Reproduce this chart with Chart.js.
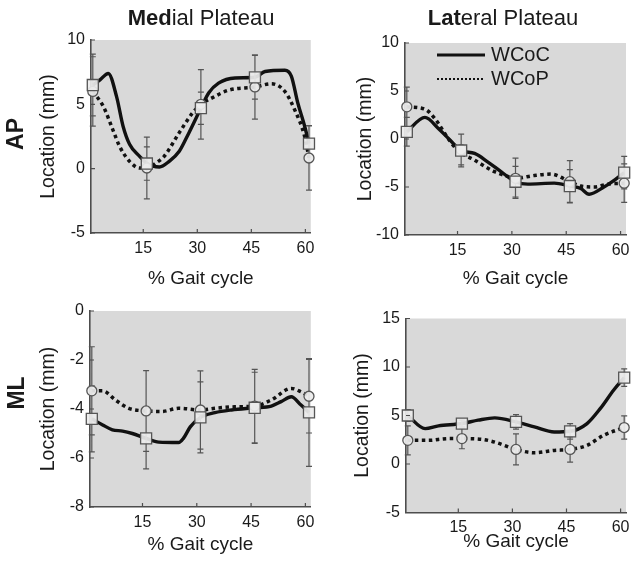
<!DOCTYPE html>
<html>
<head>
<meta charset="utf-8">
<script src="https://cdn.jsdelivr.net/npm/chart.js@4.4.1/dist/chart.umd.min.js"></script>
<style>
body { margin: 0; background: #fff; }
#fig { position: relative; width: 641px; height: 566px; overflow: hidden;
       font-family: "Liberation Sans", Arial, sans-serif; color: #1a1a1a; }
canvas { position: absolute; }
.lbl { position: absolute; white-space: nowrap; line-height: 1; transform: translate(-50%, -50%); }
.ttl { font-size: 22px; }
.row { font-size: 23px; font-weight: bold; transform: translate(-50%, -50%) rotate(-90deg); }
</style>
</head>
<body>
<div id="fig">
  <canvas id="c1" width="320" height="300" style="left:0;top:0"></canvas>
  <canvas id="c2" width="321" height="300" style="left:320px;top:0"></canvas>
  <canvas id="c3" width="320" height="283" style="left:0;top:283px"></canvas>
  <canvas id="c4" width="321" height="283" style="left:320px;top:283px"></canvas>
  <div class="lbl ttl" style="left:201px;top:18px"><b>Med</b>ial Plateau</div>
  <div class="lbl ttl" style="left:503px;top:18px"><b>Lat</b>eral Plateau</div>
  <div class="lbl row" style="left:15px;top:134px">AP</div>
  <div class="lbl row" style="left:16px;top:393px">ML</div>
</div>
<script>
// marker positions (% gait cycle) and x tick labels
const gaitX = [1, 16, 31, 46, 61];
const xTickValues = [15, 30, 45, 60];

// AP - medial plateau
const apMedCocX = [1, 3, 5.3, 7.6, 9.4, 11.2, 14, 16, 19.5, 22.2, 25, 27.7, 31, 33.2, 35.9, 40.5, 46, 48.8, 54.3, 56.1, 57.9, 59.8, 61];
const apMedCocY = [6.5, 6.9, 7.4, 5.6, 3.3, 1.9, 0.96, 0.4, 0.13, 0.57, 1.35, 2.8, 4.7, 5.9, 6.65, 7.05, 7.1, 7.55, 7.65, 7.2, 5.1, 3.3, 1.95];
const apMedCopX = [1, 3.9, 6.6, 8.5, 11.2, 14, 16, 18.5, 20.8, 25, 28.6, 31, 34.1, 38.7, 46, 50.6, 54.3, 57, 59.8, 61];
const apMedCopY = [6.0, 4.85, 3.0, 1.7, 0.57, 0.05, 0.05, 0.44, 0.96, 2.8, 4.3, 5.0, 5.5, 6.1, 6.35, 6.6, 6.0, 4.6, 2.5, 0.83];
const apMedCocMean = [6.5, 0.4, 4.7, 7.1, 1.95];
const apMedCocSd = [2.4, 1.3, 1.25, 1.7, 1.4];
const apMedCopMean = [6.0, 0.05, 5.0, 6.35, 0.83];
const apMedCopSd = [2.7, 2.4, 2.7, 2.5, 2.5];

// AP - lateral plateau
const apLatCocX = [1, 6, 9.7, 12.9, 16, 19.7, 23.4, 27, 31, 34.4, 41.7, 46, 49, 51.3, 55.4, 58.6, 61];
const apLatCocY = [0.75, 2.25, 1.1, -0.1, -1.2, -1.5, -2.4, -3.4, -4.45, -4.7, -4.6, -4.9, -5.15, -5.75, -5.0, -4.2, -3.5];
const apLatCopX = [1, 6, 8.7, 12.4, 15.1, 19.7, 25.2, 28.9, 31, 36.2, 40.8, 46, 49, 52.7, 56.4, 61];
const apLatCopY = [3.35, 3.1, 2.15, 0.05, -1.2, -2.2, -3.4, -3.9, -4.1, -3.8, -3.65, -4.45, -4.9, -5.0, -4.7, -4.6];
const apLatCocMean = [0.75, -1.2, -4.45, -4.9, -3.5];
const apLatCocSd = [1.5, 1.7, 1.6, 1.7, 1.7];
const apLatCopMean = [3.35, -1.1, -4.1, -4.45, -4.6];
const apLatCopSd = [2.05, 1.6, 2.1, 2.2, 2.0];

// ML - medial plateau
const mlMedCocX = [1, 4, 6.7, 9.5, 12.2, 16, 19.5, 25, 26.3, 28.2, 31, 35, 39.6, 46, 50.6, 53.3, 56.1, 58.8, 61];
const mlMedCocY = [-4.4, -4.65, -4.85, -4.9, -5.0, -5.2, -5.35, -5.37, -5.2, -4.73, -4.34, -4.15, -4.04, -3.95, -3.88, -3.7, -3.5, -3.84, -4.14];
const mlMedCopX = [1, 4, 7.5, 11.2, 16, 20.4, 25, 31, 35, 40.5, 46, 50.6, 56.1, 58.8, 61];
const mlMedCopY = [-3.26, -3.26, -3.63, -3.97, -4.08, -4.1, -3.97, -4.04, -3.97, -3.91, -3.88, -3.63, -3.16, -3.3, -3.48];
const mlMedCocMean = [-4.4, -5.2, -4.34, -3.95, -4.14];
const mlMedCocSd = [1.35, 1.24, 1.45, 1.45, 2.2];
const mlMedCopMean = [-3.26, -4.08, -4.04, -3.88, -3.48];
const mlMedCopSd = [1.8, 1.65, 1.6, 1.5, 1.5];

// ML - lateral plateau
const mlLatCocX = [1, 5.8, 9.5, 16, 20.5, 25.1, 31, 36.1, 41.6, 46, 50.7, 54.4, 58.1, 61];
const mlLatCocY = [5.0, 3.65, 3.93, 4.17, 4.52, 4.76, 4.34, 3.82, 3.3, 3.37, 4.17, 5.73, 7.63, 8.9];
const mlLatCopX = [1, 6.7, 12.2, 16, 21.4, 25.1, 31, 36.1, 41.6, 46, 50.7, 55.3, 61];
const mlLatCopY = [2.44, 2.44, 2.62, 2.62, 2.55, 2.26, 1.5, 1.16, 1.4, 1.5, 1.92, 2.96, 3.76];
const mlLatCocMean = [5.0, 4.17, 4.34, 3.37, 8.9];
const mlLatCocSd = [0.6, 0.35, 0.75, 0.8, 0.9];
const mlLatCopMean = [2.44, 2.62, 1.5, 1.5, 3.76];
const mlLatCopSd = [1.5, 1.05, 1.6, 1.3, 1.2];

const FONT = '"Liberation Sans", Arial, sans-serif';
const INK = '#111';
const AXIS = '#4d4d4d';
const PLOT_BG = '#d9d9d9';

const pts = (xs, ys) => xs.map((x, i) => ({ x: x, y: ys[i] }));

// background, inward ticks, error bars and the legend
const panelDecor = {
    id: 'panelDecor',
    beforeDraw(chart) {
        const { ctx, chartArea: a } = chart;
        ctx.save();
        ctx.fillStyle = PLOT_BG;
        ctx.fillRect(a.left, a.top, a.right - a.left, a.bottom - a.top);
        ctx.restore();
    },
    afterDraw(chart) {
        const { ctx, chartArea: a, scales } = chart;
        ctx.save();
        ctx.strokeStyle = AXIS;
        ctx.lineWidth = 1.2;
        ctx.beginPath();
        xTickValues.forEach(v => {
            const px = scales.x.getPixelForValue(v);
            ctx.moveTo(px, a.bottom);
            ctx.lineTo(px, a.bottom - 4);
        });
        scales.y.ticks.forEach(t => {
            const py = scales.y.getPixelForValue(t.value);
            ctx.moveTo(a.left, py);
            ctx.lineTo(a.left + 4, py);
        });
        ctx.stroke();

        const opts = chart.options.plugins.panelDecor;
        if (opts.legend) {
            const ds = chart.data.datasets;
            const x0 = a.left + 32, x1 = a.left + 80;
            [[ds[0], a.top + 12, [], 3], [ds[1], a.top + 36, [2, 2], 2.2]].forEach(([d, y, dash, w]) => {
                ctx.strokeStyle = INK;
                ctx.lineWidth = w;
                ctx.setLineDash(dash);
                ctx.beginPath();
                ctx.moveTo(x0, y);
                ctx.lineTo(x1, y);
                ctx.stroke();
                ctx.setLineDash([]);
                ctx.fillStyle = '#1a1a1a';
                ctx.font = '20px ' + FONT;
                ctx.textBaseline = 'middle';
                ctx.fillText(d.label, x1 + 6, y);
            });
        }
        ctx.restore();
    },
    beforeDatasetDraw(chart, args) {
        if (args.index !== 2) return;
        const { ctx, scales } = chart;
        ctx.save();
        ctx.strokeStyle = '#555';
        ctx.lineWidth = 1.2;
        ctx.beginPath();
        chart.data.datasets.forEach(ds => {
            if (!ds.errors) return;
            ds.data.forEach((p, i) => {
                const px = scales.x.getPixelForValue(p.x);
                const top = scales.y.getPixelForValue(p.y + ds.errors[i]);
                const bot = scales.y.getPixelForValue(p.y - ds.errors[i]);
                ctx.moveTo(px, top); ctx.lineTo(px, bot);
                ctx.moveTo(px - 3, top); ctx.lineTo(px + 3, top);
                ctx.moveTo(px - 3, bot); ctx.lineTo(px + 3, bot);
            });
        });
        ctx.stroke();
        ctx.restore();
    }
};

const panels = [
    { id: 'c1', pad: { left: 37, top: 40, right: 5, bottom: 9.6 }, yW: 54, xH: 57.4,
      yMin: -5, yMax: 10, yStep: 5, legend: false,
      cocX: apMedCocX, cocY: apMedCocY, copX: apMedCopX, copY: apMedCopY,
      cocMean: apMedCocMean, cocSd: apMedCocSd, copMean: apMedCopMean, copSd: apMedCopSd },
    { id: 'c2', pad: { left: 33.6, top: 43, right: 15, bottom: 9.6 }, yW: 51.4, xH: 55.4,
      yMin: -10, yMax: 10, yStep: 5, legend: true,
      cocX: apLatCocX, cocY: apLatCocY, copX: apLatCopX, copY: apLatCopY,
      cocMean: apLatCocMean, cocSd: apLatCocSd, copMean: apLatCopMean, copSd: apLatCopSd },
    { id: 'c3', pad: { left: 36.6, top: 28, right: 4, bottom: 9.6 }, yW: 53.4, xH: 49.4,
      yMin: -8, yMax: 0, yStep: 2, legend: false,
      cocX: mlMedCocX, cocY: mlMedCocY, copX: mlMedCopX, copY: mlMedCopY,
      cocMean: mlMedCocMean, cocSd: mlMedCocSd, copMean: mlMedCopMean, copSd: mlMedCopSd },
    { id: 'c4', pad: { left: 30.6, top: 35.5, right: 15, bottom: 12.6 }, yW: 55.4, xH: 40.9,
      yMin: -5, yMax: 15, yStep: 5, legend: false,
      cocX: mlLatCocX, cocY: mlLatCocY, copX: mlLatCopX, copY: mlLatCopY,
      cocMean: mlLatCocMean, cocSd: mlLatCocSd, copMean: mlLatCopMean, copSd: mlLatCopSd }
];

function makeChart(p) {
    const markerStyle = {
        showLine: false,
        backgroundColor: 'rgba(236,236,236,0.92)',
        borderColor: '#555',
        pointBorderWidth: 1.3,
        clip: false
    };
    return new Chart(document.getElementById(p.id), {
        type: 'line',
        data: {
            datasets: [
                { label: 'WCoC', data: pts(p.cocX, p.cocY), borderColor: INK, borderWidth: 3.4,
                  pointRadius: 0, cubicInterpolationMode: 'monotone', borderJoinStyle: 'round', order: 4 },
                { label: 'WCoP', data: pts(p.copX, p.copY), borderColor: INK, borderWidth: 3.5,
                  borderDash: [3.5, 3.5], pointRadius: 0, cubicInterpolationMode: 'monotone', order: 3 },
                { label: 'WCoP mean', data: pts(gaitX, p.copMean), errors: p.copSd, ...markerStyle,
                  pointStyle: 'circle', pointRadius: 5, order: 2 },
                { label: 'WCoC mean', data: pts(gaitX, p.cocMean), errors: p.cocSd, ...markerStyle,
                  pointStyle: 'rect', pointRadius: 7.8, order: 1 }
            ]
        },
        options: {
            responsive: false,
            animation: false,
            devicePixelRatio: 1,
            layout: { padding: p.pad },
            plugins: {
                legend: { display: false },
                tooltip: { enabled: false },
                panelDecor: { legend: p.legend }
            },
            scales: {
                x: {
                    type: 'linear', min: 0.5, max: 61.5,
                    afterBuildTicks: axis => { axis.ticks = xTickValues.map(v => ({ value: v })); },
                    afterFit: axis => { axis.height = p.xH; },
                    grid: { display: false, drawTicks: false },
                    border: { display: true, color: AXIS, width: 1.6 },
                    ticks: { color: '#1a1a1a', padding: 5.5, font: { family: FONT, size: 16 } },
                    title: { display: true, text: '% Gait cycle', color: '#1a1a1a', padding: 0,
                             font: { family: FONT, size: 19 } }
                },
                y: {
                    min: p.yMin, max: p.yMax,
                    afterFit: axis => { axis.width = p.yW; },
                    grid: { display: false, drawTicks: false },
                    border: { display: true, color: AXIS, width: 1.6 },
                    ticks: { stepSize: p.yStep, color: '#1a1a1a', padding: 6, font: { family: FONT, size: 16 } },
                    title: { display: true, text: 'Location (mm)', color: '#1a1a1a', padding: 0,
                             font: { family: FONT, size: 19.5 } }
                }
            }
        },
        plugins: [panelDecor]
    });
}

panels.forEach(makeChart);
</script>
</body>
</html>
